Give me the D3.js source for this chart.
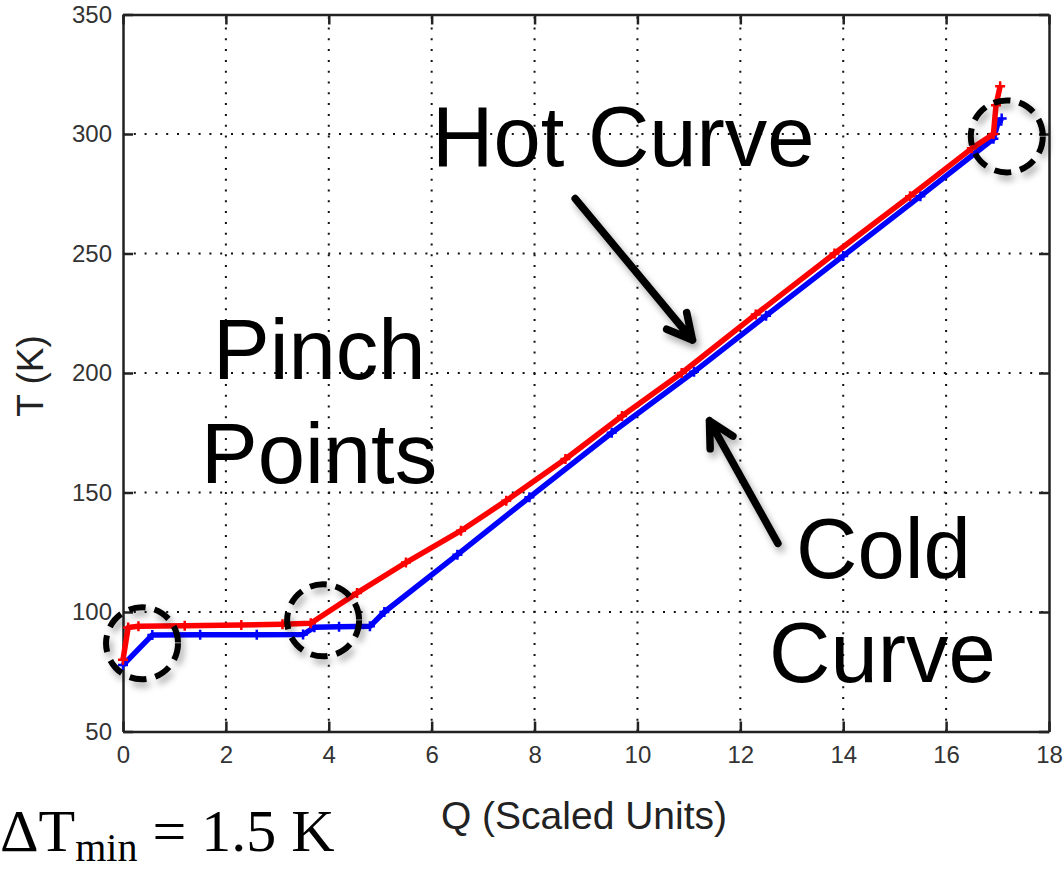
<!DOCTYPE html>
<html>
<head>
<meta charset="utf-8">
<script src="https://cdnjs.cloudflare.com/ajax/libs/d3/7.8.5/d3.min.js"></script>
<style>
  body { margin: 0; background: #fff; }
  svg { display: block; }
</style>
</head>
<body>
<script>
// chart size
var width = 1063;
var height = 872;

// hot curve (red), Q vs T
var hotQ = [0, 0.1, 0.3, 1.2, 2.3, 3.1, 3.65, 4.55, 5.5, 6.57, 7.45, 8.6, 9.7, 10.86, 12.3, 13.83, 15.3, 16.5, 16.92, 16.97, 17.05];
var hotT = [80, 93.5, 94, 94.2, 94.6, 94.9, 95.3, 108, 120.7, 134, 146.6, 164, 182, 200, 224.5, 250, 274, 294, 300, 312, 320];

// cold curve (blue)
var coldQ = [0, 0.57, 1.5, 2.6, 3.5, 3.72, 4.2, 4.8, 5.08, 6.5, 7.9, 9.5, 11.1, 12.5, 14.0, 15.5, 16.92, 17.0, 17.08];
var coldT = [77.8, 90.4, 90.5, 90.5, 90.6, 93.6, 93.8, 94, 100, 124, 148, 175, 200.5, 224, 249, 274, 298, 304, 306.5];

// axis ticks
var xTicks = [0, 2, 4, 6, 8, 10, 12, 14, 16, 18];
var yTicks = [50, 100, 150, 200, 250, 300, 350];

// pinch point circles (data coords)
var pinchQ = [0.37, 3.89, 17.18];
var pinchT = [86.9, 96.5, 299];

// arrows: from -> to (data coords)
var arrowFromQ = [8.79, 12.73];
var arrowFromT = [273, 128.7];
var arrowToQ = [11.07, 11.4];
var arrowToT = [213.8, 180];

var x = d3.scaleLinear().domain([0, 18]).range([123, 1049]);
var y = d3.scaleLinear().domain([50, 350]).range([731.5, 14.5]);

var svg = d3.select("body")
            .append("svg")
            .attr("width", width)
            .attr("height", height);

svg.append("rect").attr("width", width).attr("height", height).attr("fill", "#fff");

var defs = svg.append("defs");
var shadow = defs.append("filter").attr("id", "shadow")
                 .attr("x", "-30%").attr("y", "-30%").attr("width", "160%").attr("height", "160%");
shadow.append("feDropShadow")
      .attr("dx", 3).attr("dy", 5)
      .attr("stdDeviation", 3.5)
      .attr("flood-color", "#000")
      .attr("flood-opacity", 0.35);

// dotted grid
svg.append("g").selectAll("line")
   .data(xTicks.slice(1, -1))
   .enter().append("line")
   .attr("x1", function(d) { return x(d); })
   .attr("x2", function(d) { return x(d); })
   .attr("y1", y(50)).attr("y2", y(350))
   .attr("stroke", "#111").attr("stroke-width", 2)
   .attr("stroke-dasharray", "2,8.8");

svg.append("g").selectAll("line")
   .data(yTicks.slice(1, -1))
   .enter().append("line")
   .attr("y1", function(d) { return y(d); })
   .attr("y2", function(d) { return y(d); })
   .attr("x1", x(0)).attr("x2", x(18))
   .attr("stroke", "#111").attr("stroke-width", 2)
   .attr("stroke-dasharray", "2,8.8");

// axes (ticks inward, box on)
var tickFont = "'Liberation Sans', Arial, sans-serif";

var xAxis = svg.append("g")
   .attr("transform", "translate(0," + y(50) + ")")
   .call(d3.axisBottom(x).tickValues(xTicks).tickSizeInner(-10).tickSizeOuter(0).tickPadding(14));
var yAxis = svg.append("g")
   .attr("transform", "translate(" + x(0) + ",0)")
   .call(d3.axisLeft(y).tickValues(yTicks).tickSizeInner(-10).tickSizeOuter(0).tickPadding(11));
var xTop = svg.append("g")
   .attr("transform", "translate(0," + y(350) + ")")
   .call(d3.axisTop(x).tickValues(xTicks).tickSizeInner(-10).tickSizeOuter(0).tickFormat(""));
var yRight = svg.append("g")
   .attr("transform", "translate(" + x(18) + ",0)")
   .call(d3.axisRight(y).tickValues(yTicks).tickSizeInner(-10).tickSizeOuter(0).tickFormat(""));

[xAxis, yAxis, xTop, yRight].forEach(function(g) {
  g.select(".domain").attr("stroke", "#222").attr("stroke-width", 2.5);
  g.selectAll(".tick line").attr("stroke", "#222").attr("stroke-width", 2.5);
  g.selectAll(".tick text")
   .attr("fill", "#333")
   .style("font-family", tickFont)
   .style("font-size", "24px");
});

// curves
var line = d3.line()
   .x(function(d) { return x(d[0]); })
   .y(function(d) { return y(d[1]); });

var cold = coldQ.map(function(q, i) { return [q, coldT[i]]; });
var hot = hotQ.map(function(q, i) { return [q, hotT[i]]; });

function drawCurve(data, color) {
  svg.append("path")
     .datum(data)
     .attr("d", line)
     .attr("fill", "none")
     .attr("stroke", color)
     .attr("stroke-width", 5.5)
     .attr("stroke-linejoin", "round");
  // "+" markers
  var m = svg.append("g").selectAll("g")
     .data(data)
     .enter().append("g")
     .attr("transform", function(d) { return "translate(" + x(d[0]) + "," + y(d[1]) + ")"; });
  m.append("path")
   .attr("d", "M-5,0H5M0,-5V5")
   .attr("stroke", color)
   .attr("stroke-width", 2.5);
}

drawCurve(cold, "#0000ff");
drawCurve(hot, "#ff0000");

// pinch circles
svg.append("g").selectAll("circle")
   .data(pinchQ)
   .enter().append("circle")
   .attr("cx", function(d) { return x(d); })
   .attr("cy", function(d, i) { return y(pinchT[i]); })
   .attr("r", 36)
   .attr("fill", "none")
   .attr("stroke", "#000")
   .attr("stroke-width", 6)
   .attr("stroke-dasharray", "17,9")
   .attr("filter", "url(#shadow)");

// arrows
arrowFromQ.forEach(function(q, i) {
  var x1 = x(q), y1 = y(arrowFromT[i]);
  var x2 = x(arrowToQ[i]), y2 = y(arrowToT[i]);
  var ang = Math.atan2(y2 - y1, x2 - x1);
  var L = 28, a = Math.PI / 6.5;
  var p = "M" + x1 + "," + y1 + "L" + x2 + "," + y2 +
          "M" + (x2 - L * Math.cos(ang - a)) + "," + (y2 - L * Math.sin(ang - a)) +
          "L" + x2 + "," + y2 +
          "L" + (x2 - L * Math.cos(ang + a)) + "," + (y2 - L * Math.sin(ang + a));
  svg.append("path")
     .attr("d", p)
     .attr("fill", "none")
     .attr("stroke", "#000")
     .attr("stroke-width", 7.5)
     .attr("stroke-linecap", "round")
     .attr("stroke-linejoin", "round")
     .attr("filter", "url(#shadow)");
});

// axis labels
svg.append("text")
   .attr("x", 584).attr("y", 829)
   .attr("text-anchor", "middle")
   .style("font-family", tickFont)
   .style("font-size", "39px")
   .attr("fill", "#222")
   .text("Q (Scaled Units)");

svg.append("text")
   .attr("transform", "translate(43,376) rotate(-90)")
   .attr("text-anchor", "middle")
   .style("font-family", tickFont)
   .style("font-size", "37px")
   .attr("fill", "#222")
   .text("T (K)");

// annotations
var bigFont = "'Liberation Sans', Arial, sans-serif";
var notes = [
  { t: "Hot Curve", x: 432, y: 166 },
  { t: "Pinch", x: 213, y: 379 },
  { t: "Points", x: 201, y: 483 },
  { t: "Cold", x: 796, y: 578 },
  { t: "Curve", x: 769, y: 682 }
];
svg.append("g").selectAll("text")
   .data(notes)
   .enter().append("text")
   .attr("x", function(d) { return d.x; })
   .attr("y", function(d) { return d.y; })
   .style("font-family", bigFont)
   .style("font-size", "85px")
   .attr("fill", "#000")
   .text(function(d) { return d.t; });

var dt = svg.append("text")
   .attr("x", 0).attr("y", 851)
   .style("font-family", "'Liberation Serif', 'Times New Roman', serif")
   .style("font-size", "60px")
   .attr("fill", "#000");
dt.append("tspan").text("ΔT");
dt.append("tspan").attr("dy", 10).style("font-size", "40px").text("min");
dt.append("tspan").attr("dy", -10).text(" = 1.5 K");
</script>
</body>
</html>
